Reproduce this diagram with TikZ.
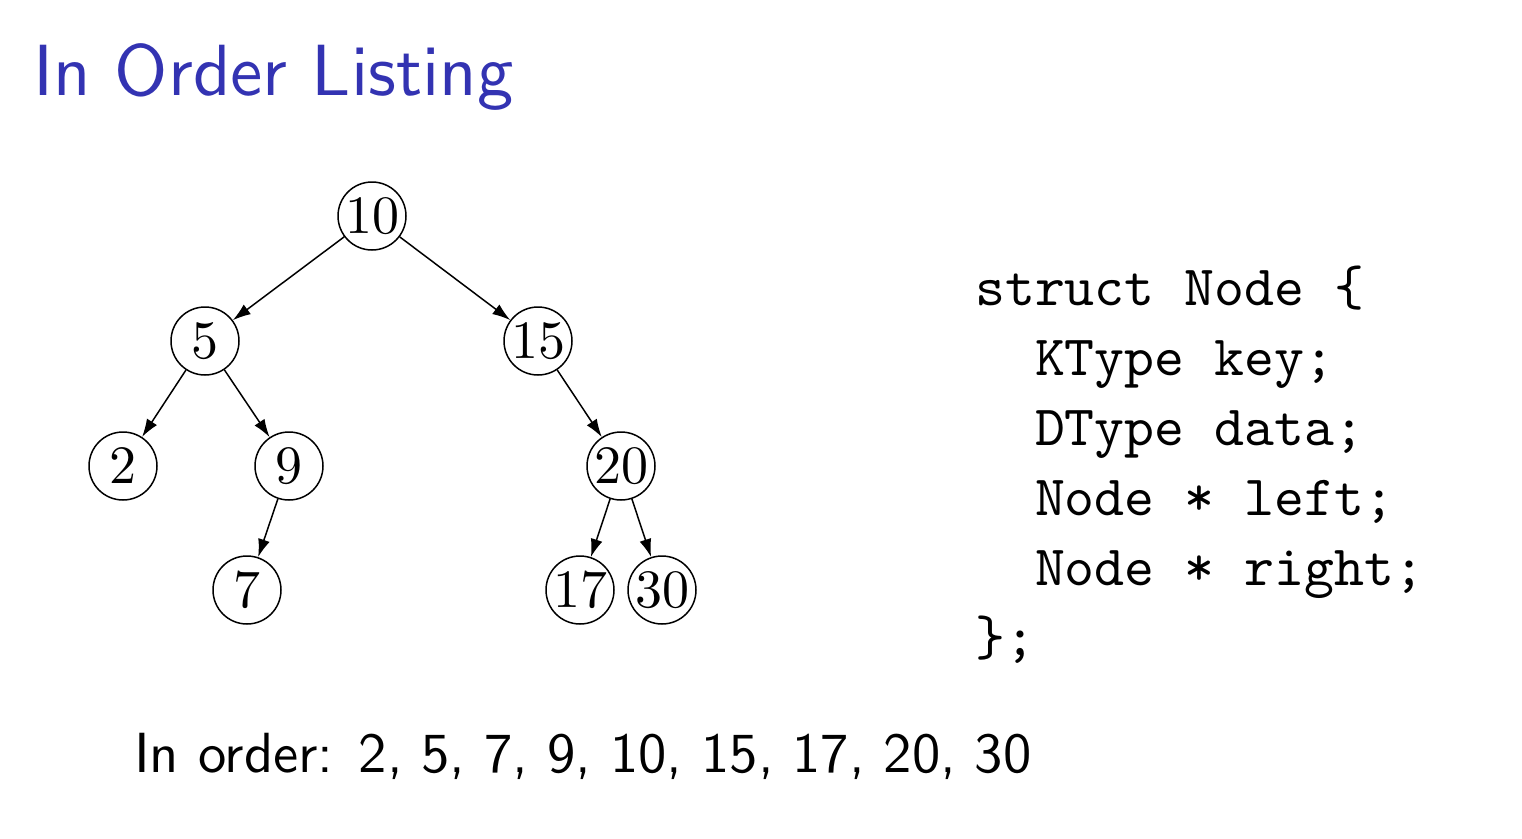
\documentclass[tikz,border=0pt]{standalone}
\usepackage{fontspec}
\newfontfamily\rmten{lmroman10-regular}[Extension=.otf]
\newfontfamily\ssten{lmsans10-regular}[Extension=.otf]
\newfontfamily\ttten{lmmono10-regular}[Extension=.otf]
\usetikzlibrary{arrows.meta}
\definecolor{titleblue}{RGB}{51,51,178}
\begin{document}
\begin{tikzpicture}[x=1pt,y=-1pt,
  tnode/.style={draw, circle, line width=1.5pt, minimum size=68pt, inner sep=0pt,
    font=\rmten\fontsize{54}{60}\selectfont},
  edge/.style={line width=1.5pt, -{Latex[length=18pt,width=12pt]}}]
\useasboundingbox (0,0) rectangle (1522,838);
% title
\node[anchor=base west, inner sep=0pt, text=titleblue,
  font=\ssten\fontsize{72.5}{80}\selectfont] (title) at (33,95) {In Order Listing};
% tree
\node[tnode] (n10) at (372,216) {10};
\node[tnode] (n5)  at (205,341) {5};
\node[tnode] (n15) at (538,341) {15};
\node[tnode] (n2)  at (123,466) {2};
\node[tnode] (n9)  at (289,466) {9};
\node[tnode] (n20) at (621,466) {20};
\node[tnode] (n7)  at (247,590) {7};
\node[tnode] (n17) at (580,590) {17};
\node[tnode] (n30) at (662,590) {30};
\draw[edge] (n10) -- (n5);
\draw[edge] (n10) -- (n15);
\draw[edge] (n5) -- (n2);
\draw[edge] (n5) -- (n9);
\draw[edge] (n9) -- (n7);
\draw[edge] (n15) -- (n20);
\draw[edge] (n20) -- (n17);
\draw[edge] (n20) -- (n30);
% code
\node[anchor=base west, inner sep=0pt, align=left,
  font=\ttten\fontsize{57}{70}\selectfont] (code) at (975,655)
  {struct Node \{\\
   \hphantom{aa}KType key;\\
   \hphantom{aa}DType data;\\
   \hphantom{aa}Node * left;\\
   \hphantom{aa}Node * right;\\
   \};};
% in order text
\node[anchor=base west, inner sep=0pt,
  font=\ssten\fontsize{56.6}{64}\selectfont] (inorder) at (134,772)
  {In order: 2, 5, 7, 9, 10, 15, 17, 20, 30};
\end{tikzpicture}
\end{document}
